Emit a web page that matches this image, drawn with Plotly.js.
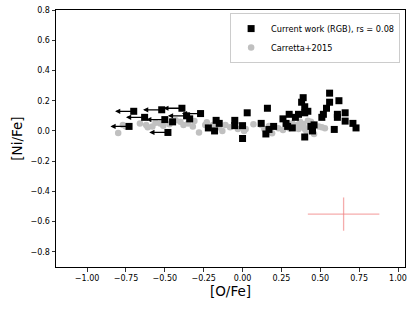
<!DOCTYPE html>
<html><head><meta charset="utf-8">
<script src="https://cdn.plot.ly/plotly-3.0.1.min.js"></script>
<style>html,body{margin:0;padding:0;background:#fff}#c{width:415px;height:311px}</style>
</head><body><div id="c"></div>
<script>
// Current work (RGB)
const curO = [-0.70,-0.73,-0.63,-0.52,-0.50,-0.45,-0.39,-0.36,-0.34,-0.27,-0.48,-0.22,-0.18,-0.17,-0.15,-0.05,-0.05,0.00,0.00,0.03,0.12,0.15,0.16,0.17,0.20,0.26,0.28,0.29,0.30,0.32,0.34,0.36,0.38,0.39,0.40,0.40,0.42,0.40,0.45,0.46,0.44,0.51,0.52,0.54,0.56,0.56,0.59,0.61,0.61,0.62,0.66,0.66,0.71,0.73];
const curNi = [0.13,0.03,0.09,0.14,0.075,0.06,0.15,0.10,0.08,0.115,-0.01,0.02,0.00,0.07,0.05,0.07,0.035,0.035,-0.05,0.12,0.05,-0.02,0.15,0.01,0.03,0.08,0.05,0.03,0.11,0.02,0.09,0.11,0.19,0.22,0.16,0.12,0.13,-0.04,0.00,0.04,0.03,0.09,0.11,0.15,0.19,0.25,0.01,0.09,0.11,0.20,0.12,0.065,0.05,0.02];
// upper limits in [O/Fe] (arrows)
const limO = [-0.70,-0.73,-0.63,-0.52,-0.50,-0.39,-0.36,-0.27,-0.48];
const limNi = [0.13,0.03,0.09,0.14,0.075,0.15,0.10,0.115,-0.01];
// Carretta+2015
const carO = [-0.80,-0.77,-0.75,-0.66,-0.62,-0.61,-0.58,-0.56,-0.53,-0.51,-0.47,-0.45,-0.43,-0.40,-0.38,-0.35,-0.32,-0.31,-0.28,-0.24,-0.23,-0.19,-0.15,-0.13,-0.11,-0.08,-0.03,0.01,0.02,0.07,0.12,0.14,0.17,0.19,0.23,0.26,0.28,0.30,0.32,0.33,0.35,0.36,0.37,0.38,0.39,0.40,0.41,0.42,0.43,0.44,0.45,0.46,0.49,0.51,0.53];
const carNi = [-0.013,0.04,0.03,0.05,0.04,0.025,0.03,0.055,0.05,0.035,0.045,0.065,0.07,0.06,0.04,0.05,0.03,0.065,-0.01,0.04,0.057,0.04,0.025,0.0,0.04,0.025,0.013,0.0,0.013,0.045,0.04,0.013,0.033,-0.015,0.018,0.007,0.04,0.018,0.05,0.024,0.04,0.013,0.06,0.03,0.046,0.013,0.0,0.068,0.03,0.06,0.046,-0.02,0.03,0.024,0.018];
// typical error
const errO = [0.65], errNi = [-0.55], errX = [0.23], errY = [0.11];

const arrowLen = 0.12;
const font = "DejaVu Sans, sans-serif";
const annotations = limO.map((x,i)=>({
  x: x - arrowLen, y: limNi[i], ax: x, ay: limNi[i],
  xref:'x', yref:'y', axref:'x', ayref:'y',
  text:'', showarrow:true, arrowhead:2, arrowsize:0.8, arrowwidth:1.3, arrowcolor:'#000'
}));

const traces = [
  {x: carO, y: carNi, type:'scatter', mode:'markers', name:'Carretta+2015',
   marker:{symbol:'circle', size:6.5, color:'#c0c0c0'}, legendrank:2},
  {x: curO, y: curNi, type:'scatter', mode:'markers', name:'Current work (RGB), rs = 0.08',
   marker:{symbol:'square', size:7, color:'#000'}, legendrank:1},
  {x: errO, y: errNi, type:'scatter', mode:'markers', showlegend:false,
   marker:{size:0.1, color:'rgba(0,0,0,0)'},
   error_x:{type:'data', array:errX, color:'rgba(240,128,128,0.65)', thickness:1.3, width:0},
   error_y:{type:'data', array:errY, color:'rgba(240,128,128,0.65)', thickness:1.3, width:0}}
];

const layout = {
  width:415, height:311,
  margin:{l:56, r:10, t:10, b:44},
  paper_bgcolor:'#fff', plot_bgcolor:'#fff',
  font:{family:font, size:8, color:'#000'},
  showlegend:true,
  legend:{x:0.986, y:0.988, xanchor:'right', yanchor:'top', bgcolor:'rgba(255,255,255,0.8)',
          bordercolor:'#cccccc', borderwidth:1, font:{size:8.2, family:font}, tracegroupgap:0,
          itemwidth:30, entrywidthmode:'pixels'},
  xaxis:{range:[-1.2,1.045], tickvals:[-1,-0.75,-0.5,-0.25,0,0.25,0.5,0.75,1], tickformat:'.2f',
         showgrid:false, zeroline:false, showline:true, mirror:true, linecolor:'#000', linewidth:1,
         ticks:'outside', ticklen:3.5, tickwidth:0.8, tickcolor:'#000',
         title:{text:'[O/Fe]', font:{size:13.5, family:font}, standoff:4}},
  yaxis:{range:[-0.9,0.8], tickvals:[-0.8,-0.6,-0.4,-0.2,0,0.2,0.4,0.6,0.8], tickformat:'.1f',
         showgrid:false, zeroline:false, showline:true, mirror:true, linecolor:'#000', linewidth:1,
         ticks:'outside', ticklen:3.5, tickwidth:0.8, tickcolor:'#000',
         title:{text:'[Ni/Fe]', font:{size:13.5, family:font}, standoff:4}},
  annotations: annotations
};
Plotly.newPlot('c', traces, layout, {displayModeBar:false, staticPlot:true});
</script></body></html>
